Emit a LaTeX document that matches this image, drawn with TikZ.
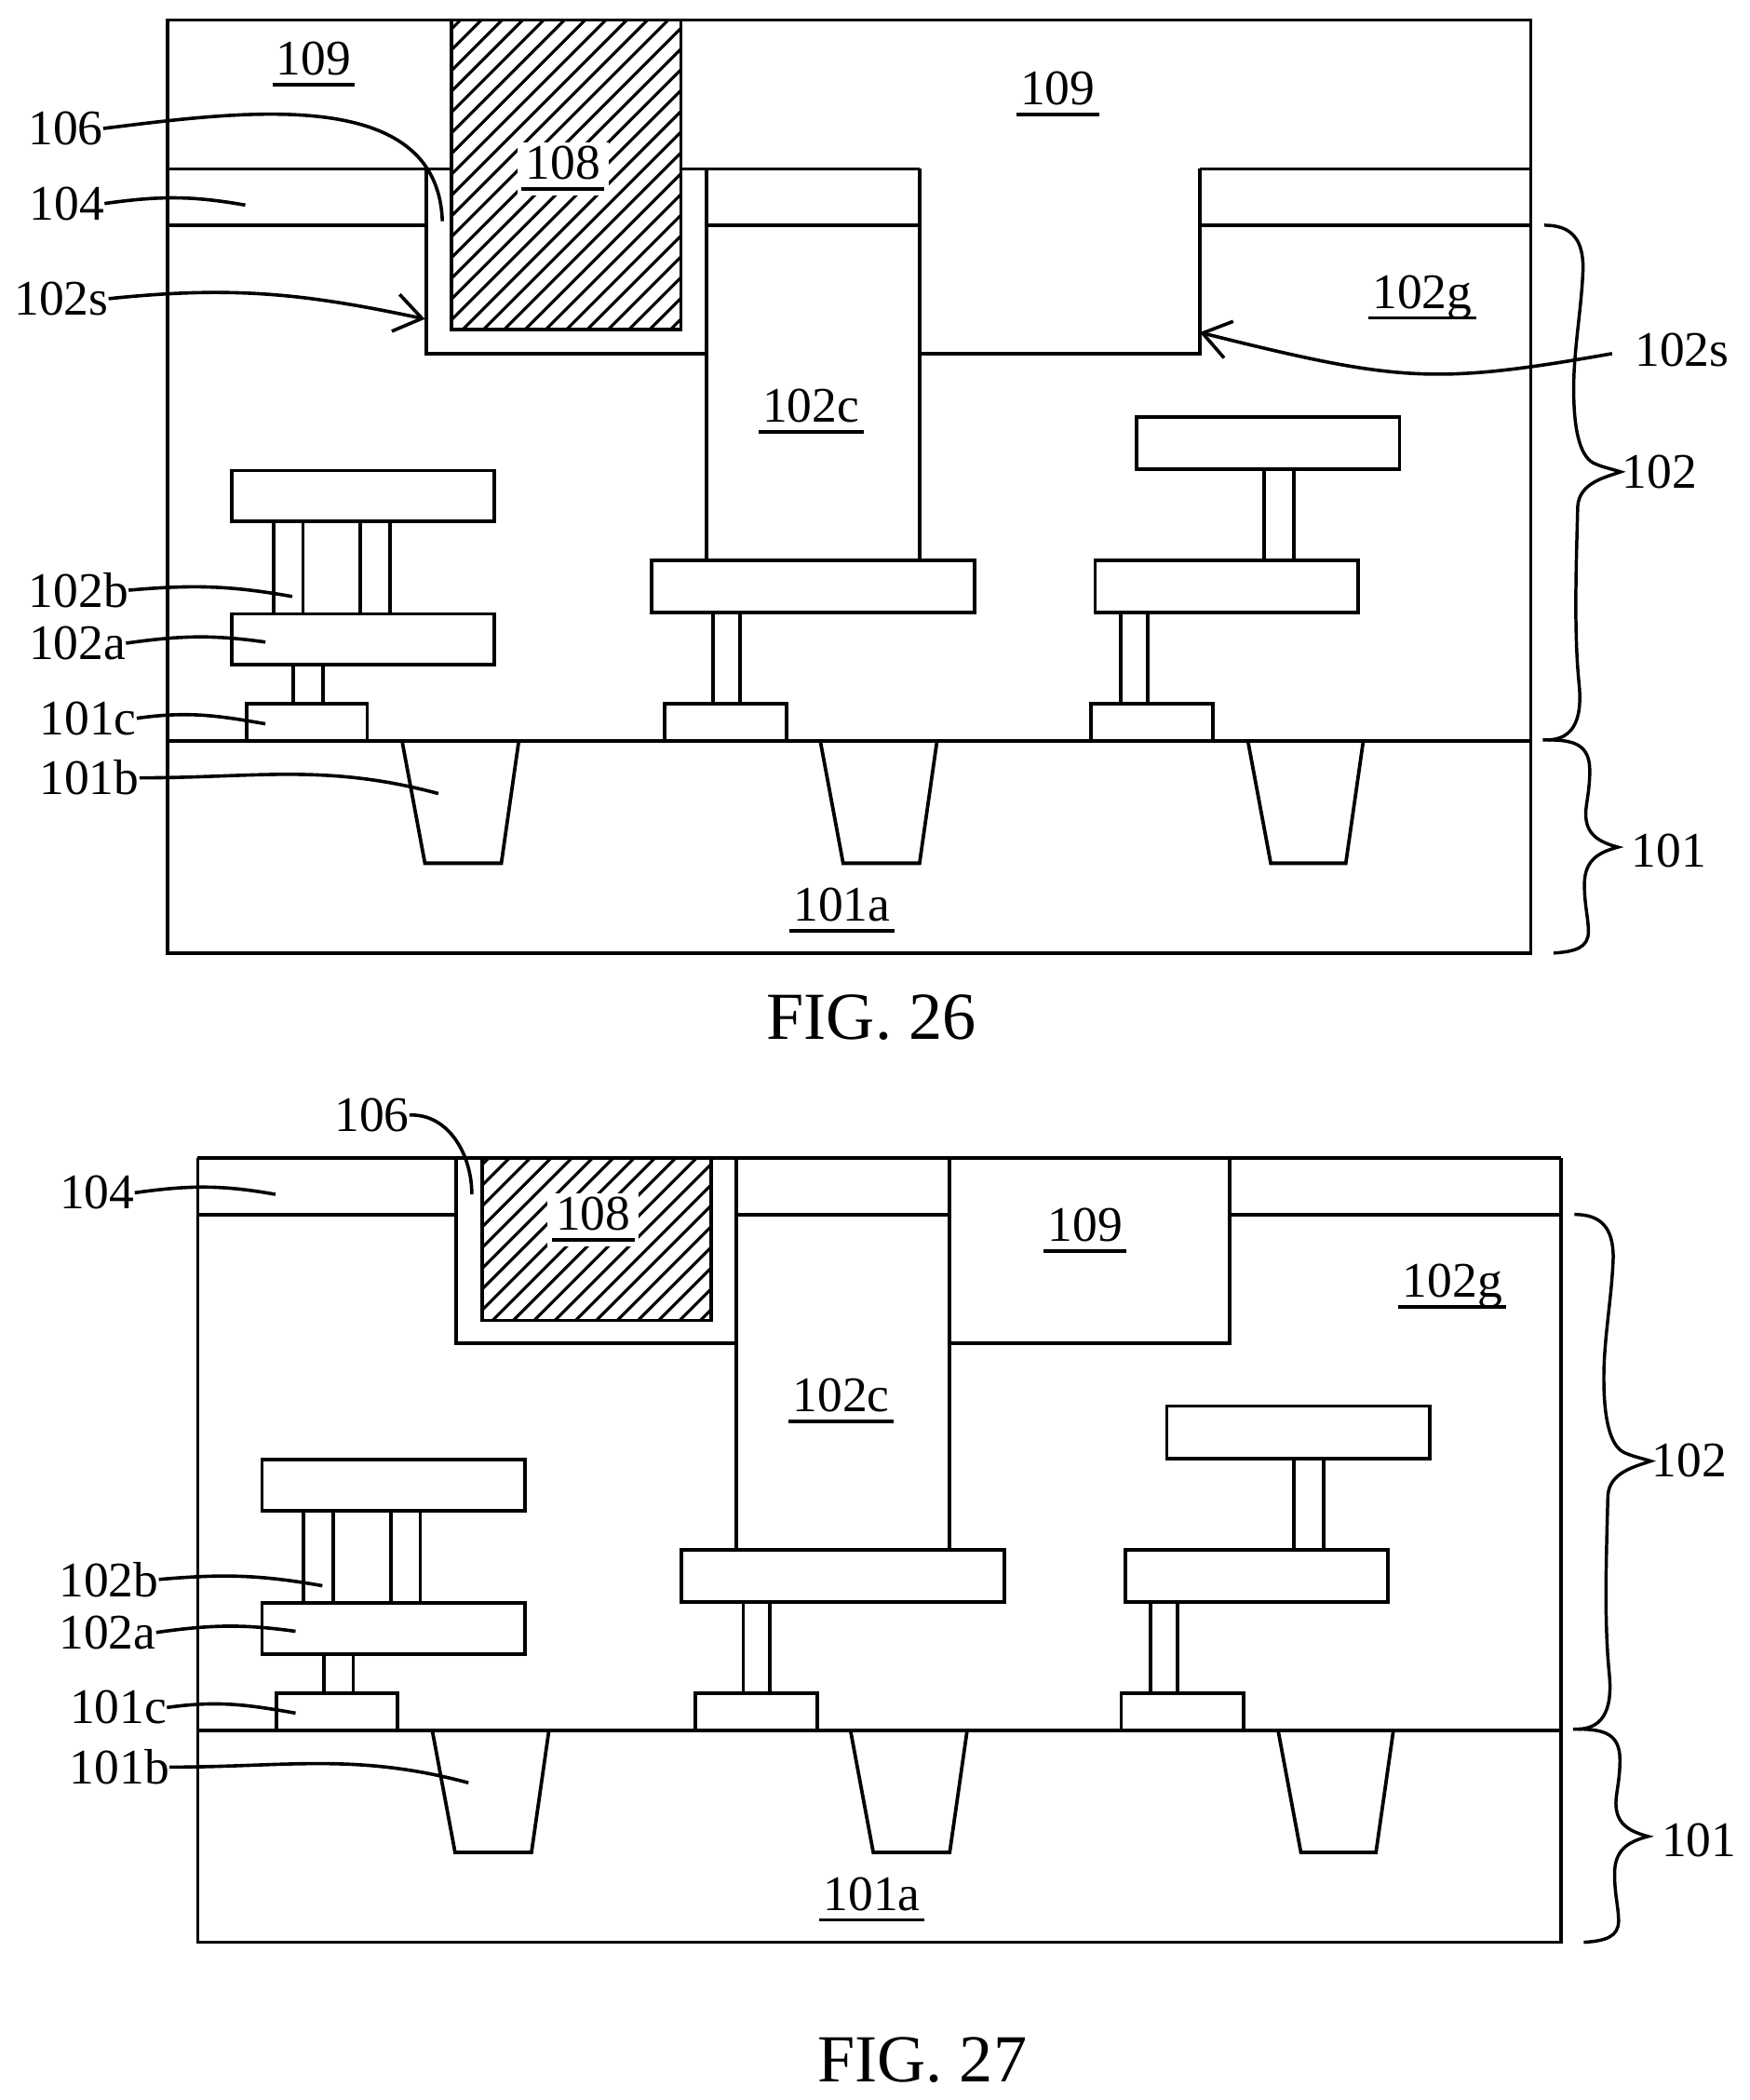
\documentclass[tikz,border=0pt]{standalone}
\usepackage{fontspec}
\setmainfont{Liberation Serif}
\usetikzlibrary{arrows.meta}

\newcommand{\partlbl}[1]{\setbox0=\hbox{#1}\hbox{\rule[-8.5pt]{\dimexpr\wd0+6pt}{2.6pt}\kern-\dimexpr\wd0+3pt\relax\box0\kern3pt}}

\tikzset{
  part/.style={line width=2.6pt,line join=miter},
  hatchline/.style={line width=2.2pt},
  leader/.style={line width=2.5pt},
  barbed/.style={leader,-{Straight Barb[length=20pt,width=28pt]}},
  brace/.style={line width=2.4pt},
  tag/.style={font=\fontsize{37}{37}\selectfont,inner sep=0pt},
  rtag/.style={tag,anchor=base east},
  utag/.style={tag,anchor=base},
  captag/.style={font=\fontsize{50}{50}\selectfont,inner sep=0pt,anchor=base},
}

% what both figures share, below the top of layer 104
\newcommand{\devlower}{
  \draw[part] (125,126) -- (125,711) -- (1142,711) -- (1142,126);
  \draw[part] (125,553) -- (1142,553);
  \draw[part] (125,168) -- (318,168);
  \draw[part] (527,168) -- (686,168);
  \draw[part] (895,168) -- (1142,168);
  % trench and pillar
  \draw[part] (318,126) -- (318,264) -- (527,264);
  \draw[part] (527,126) -- (527,418);
  \draw[part] (686,126) -- (686,418);
  \draw[part] (686,264) -- (895,264) -- (895,126);
  % left stack
  \draw[part] (173,351) rectangle (369,389);
  \draw[part] (173,458) rectangle (369,496);
  \draw[part] (184,525) rectangle (274,553);
  \draw[part] (204,389) -- (204,458);
  \draw[part] (226,389) -- (226,458);
  \draw[part] (269,389) -- (269,458);
  \draw[part] (291,389) -- (291,458);
  \draw[part] (219,496) -- (219,525);
  \draw[part] (241,496) -- (241,525);
  % middle stack
  \draw[part] (486,418) rectangle (727,457);
  \draw[part] (496,525) rectangle (587,553);
  \draw[part] (532,457) -- (532,525);
  \draw[part] (552,457) -- (552,525);
  % right stack
  \draw[part] (848,311) rectangle (1044,350);
  \draw[part] (817,418) rectangle (1013,457);
  \draw[part] (814,525) rectangle (905,553);
  \draw[part] (943,350) -- (943,418);
  \draw[part] (965,350) -- (965,418);
  \draw[part] (836,457) -- (836,525);
  \draw[part] (856,457) -- (856,525);
  % isolation trenches
  \draw[part] (300,553) -- (317,644) -- (374,644) -- (387,553);
  \draw[part] (612,553) -- (629,644) -- (686,644) -- (699,553);
  \draw[part] (931,553) -- (948,644) -- (1004,644) -- (1017,553);
  % braces
  \draw[brace] (1152,168) .. controls (1172,168) and (1181,178) .. (1181,200)
    .. controls (1180,230) and (1174,260) .. (1174,290)
    .. controls (1174,325) and (1180,342) .. (1190,346)
    .. controls (1197,349) and (1203,350) .. (1209,352)
    .. controls (1198,356) and (1178,360) .. (1177,378)
    .. controls (1176,420) and (1174,470) .. (1178,510)
    .. controls (1181,540) and (1172,553) .. (1151,552);
  \draw[brace] (1155,552) .. controls (1175,552) and (1186,556) .. (1186,575)
    .. controls (1186,590) and (1183,600) .. (1183,607)
    .. controls (1183,622) and (1192,628) .. (1207,632)
    .. controls (1192,636) and (1182,642) .. (1182,660)
    .. controls (1182,675) and (1185,685) .. (1185,695)
    .. controls (1185,707) and (1175,710) .. (1159,711);
  % labels
  \node[rtag] (l104) at (78,164) {104};
  \node[rtag] (l102b) at (96,453) {102b};
  \node[rtag] (l102a) at (94,492) {102a};
  \node[rtag] (l101c) at (102,548) {101c};
  \node[rtag] (l101b) at (104,593) {101b};
  \node[utag] (l102c) at (605,315) {\partlbl{102c}};
  \node[utag] (l102g) at (1061,230) {\partlbl{102g}};
  \node[utag] (l101a) at (628,687) {\partlbl{101a}};
  \node[rtag] (l102) at (1266,364) {102};
  \node[rtag] (l101) at (1273,647) {101};
  % leaders
  \path (183,153) coordinate (c104);
  \path (218,445) coordinate (c102b);
  \path (198,479) coordinate (c102a);
  \path (198,540) coordinate (c101c);
  \path (327,592) coordinate (c101b);
  \draw[leader] (l104.east) to [out=8,in=170] (c104);
  \draw[leader] (l102b.east) to [out=5,in=170] (c102b);
  \draw[leader] (l102a.east) to [out=8,in=172] (c102a);
  \draw[leader] (l101c.east) to [out=8,in=170] (c101c);
  \draw[leader] (l101b.east) to [out=0,in=165] (c101b);
}

\begin{document}
\begin{tikzpicture}[x=0.99626pt,y=-0.99626pt]
  \useasboundingbox (0pt,0pt) rectangle (1300pt,-1560.8pt);
  % fig 26
  \begin{scope}[name prefix=a-]
    \begin{scope}
      \clip (337,15) rectangle (508,246);
      \foreach \d in {-224.5,-209,...,171} {
        \draw[hatchline] (337+\d,246) -- ++(240,-240);
      }
    \end{scope}
    \draw[part] (337,15) rectangle (508,246);
    \devlower
    \draw[part] (125,126) -- (125,15) -- (1142,15) -- (1142,126);
    \draw[part] (125,126) -- (337,126);
    \draw[part] (508,126) -- (686,126);
    \draw[part] (895,126) -- (1142,126);
    \node[utag,fill=white,inner sep=3pt] (l108) at (420,134) {\partlbl{108}};
    \node[utag] (l109a) at (234,56) {\partlbl{109}};
    \node[utag] (l109b) at (789,78) {\partlbl{109}};
    \node[rtag] (l106) at (77,108) {106};
    \node[rtag] (l102sa) at (81,235) {102s};
    \node[rtag] (l102sb) at (1290,273) {102s};
    \path (330,165) coordinate (c106);
    \path (317,238) coordinate (c102sa);
    \path (895,248) coordinate (c102sb);
    \draw[leader] (l106.east) to [out=7,in=92] (c106);
    \draw[barbed] (l102sa.east) to [out=6,in=168] (c102sa);
    \draw[barbed,shorten <=17pt] (l102sb.west) to [out=190,in=-14,looseness=1.2] (c102sb);
  \end{scope}
  % fig 27
  \begin{scope}[shift={(22.5,738)},name prefix=b-]
    \begin{scope}
      \clip (337,126) rectangle (508,247);
      \foreach \d in {-116,-100.5,...,171} {
        \draw[hatchline] (337+\d,247) -- ++(130,-130);
      }
    \end{scope}
    \draw[part] (337,126) -- (337,247) -- (508,247) -- (508,126);
    \devlower
    \draw[part] (125,126) -- (1142,126);
    \node[utag,fill=white,inner sep=3pt] (l108) at (420,180) {\partlbl{108}};
    \node[utag] (l109) at (787,188) {\partlbl{109}};
    \node[rtag] (l106) at (283,106) {106};
    \path (329.5,153) coordinate (c106);
    \draw[leader] (l106.east) to [out=2,in=90] (c106);
  \end{scope}
  \node[captag] (cap26) at (650,775) {FIG. 26};
  \node[captag] (cap27) at (688,1553) {FIG. 27};
\end{tikzpicture}
\end{document}
